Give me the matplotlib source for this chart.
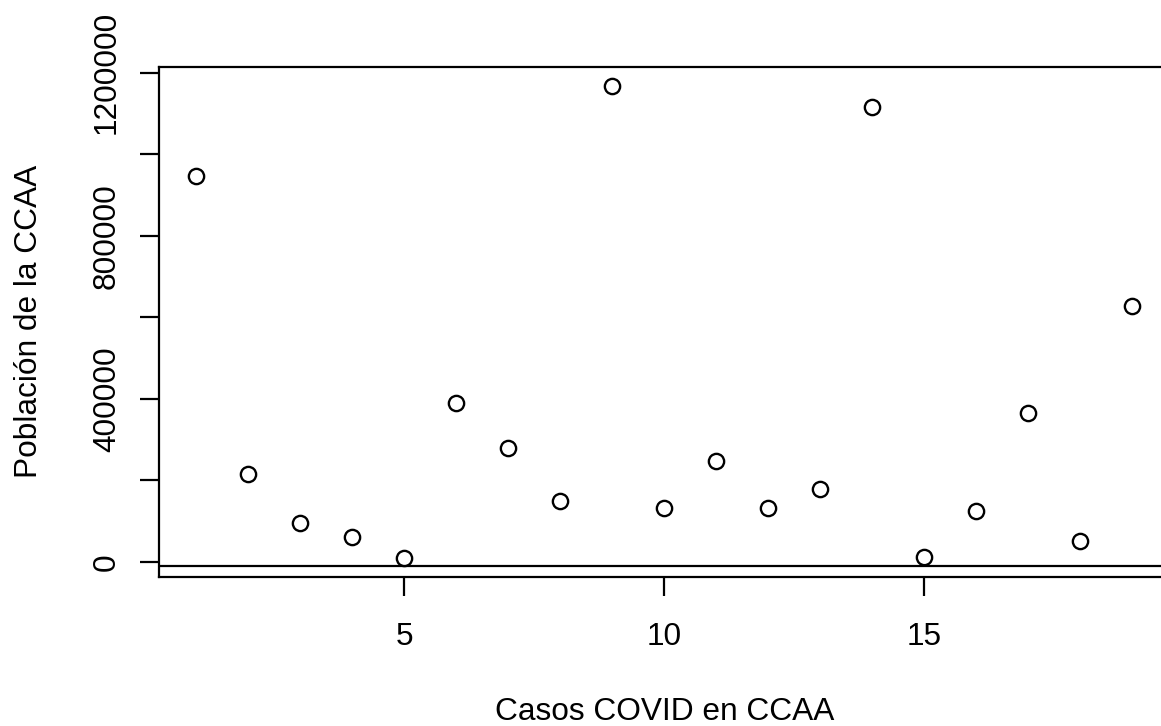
import numpy as np
import matplotlib
matplotlib.use('Agg')
import matplotlib.pyplot as plt

plt.rcParams['font.family'] = ['Liberation Sans', 'DejaVu Sans']

# casos por comunidad (indice) y poblacion
casos = np.arange(1, 20)
poblacion = [945900, 214900, 94100, 60500, 9800, 389600, 280300, 148700,
             1168100, 130900, 246800, 130900, 177400, 1114900, 12300,
             123500, 365100, 51500, 627300]
linea_h = -10500

xticks = [5, 10, 15]
yticks = [0, 200000, 400000, 600000, 800000, 1000000, 1200000]
ylabels = ['0', '', '400000', '', '800000', '', '1200000']

W, H = 1161, 726
fig = plt.figure(figsize=(W / 100, H / 100), dpi=100)
# plot region in pixels (right side runs past the figure edge)
x0, x1 = 158.9, 1169.8
y0, y1 = 576.7, 66.7
ax = fig.add_axes([x0 / W, 1 - y0 / H, (x1 - x0) / W, (y0 - y1) / H])

fs = 22.8
lw = 1.6

ax.plot(casos, poblacion, 'o', ms=11, mfc='none', mec='black', mew=1.7)
ax.axhline(linea_h, color='black', lw=lw)

# R-style 4% padding on both axes
xr = casos.max() - casos.min()
ax.set_xlim(casos.min() - 0.04 * xr, casos.max() + 0.04 * xr)
yr = max(poblacion) - min(poblacion)
ax.set_ylim(min(poblacion) - 0.04 * yr, max(poblacion) + 0.04 * yr)

ax.set_xticks(xticks)
ax.set_xticklabels([str(v) for v in xticks])
ax.set_yticks(yticks)
ax.set_yticklabels(ylabels)

for s in ax.spines.values():
    s.set_linewidth(lw)

ax.tick_params(axis='both', length=13.7, width=lw, labelsize=fs)
ax.tick_params(axis='x', pad=19)
ax.tick_params(axis='y', pad=17.9)
plt.setp(ax.get_yticklabels(), rotation=90, ha='center', va='baseline',
         rotation_mode='anchor')

fig.text(664.4 / W, 1 - 720.5 / H, 'Casos COVID en CCAA', fontsize=fs,
         ha='center', va='baseline')
fig.text(36.7 / W, 1 - 321.7 / H, 'Población de la CCAA', fontsize=fs,
         ha='center', va='baseline', rotation=90, rotation_mode='anchor')

fig.savefig('out.png', dpi=100)
